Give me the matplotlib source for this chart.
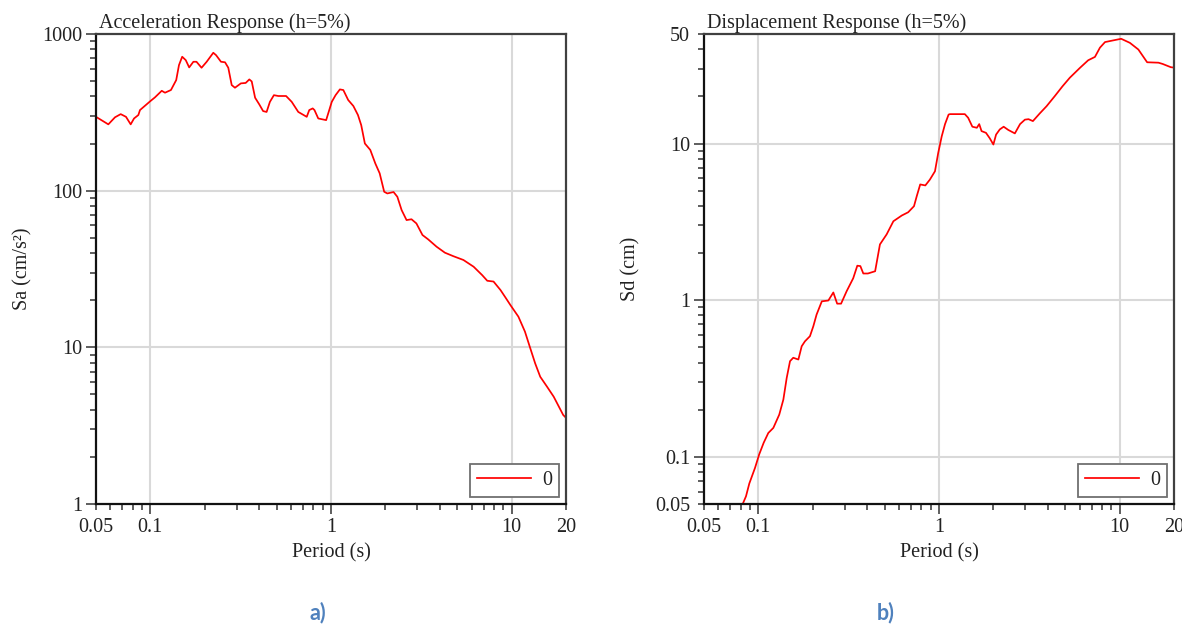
import matplotlib
matplotlib.use("Agg")
import matplotlib.pyplot as plt
from matplotlib import ticker

plt.rcParams.update(
    {
        "font.family": ["Liberation Serif", "DejaVu Serif"],
        "font.size": 14.5,
        "text.color": "#222222",
        "axes.labelcolor": "#222222",
        "xtick.color": "#333333",
        "ytick.color": "#333333",
        "xtick.labelcolor": "#222222",
        "ytick.labelcolor": "#222222",
    }
)

# acceleration spectrum, h = 5%
period_sa = [0.05, 0.0585, 0.0637, 0.0685, 0.0733, 0.0778, 0.0812, 0.0858, 0.0876, 0.100,
             0.106, 0.1156, 0.1205, 0.130, 0.139, 0.144, 0.150, 0.157, 0.164, 0.173,
             0.180, 0.192, 0.205, 0.223, 0.231, 0.246, 0.259, 0.270, 0.282, 0.294,
             0.317, 0.337, 0.353, 0.364, 0.380, 0.401, 0.421, 0.440, 0.459, 0.483,
             0.511, 0.564, 0.606, 0.659, 0.734, 0.758, 0.792, 0.810, 0.850, 0.940,
             1.01, 1.06, 1.12, 1.17, 1.245, 1.33, 1.41, 1.47, 1.54, 1.65,
             1.76, 1.86, 1.97, 2.05, 2.22, 2.33, 2.46, 2.62, 2.79, 2.97,
             3.21, 3.45, 3.84, 4.27, 4.75, 5.41, 6.16, 6.87, 7.33, 7.94,
             8.68, 9.27, 9.85, 10.9, 11.85, 12.6, 13.5, 14.4, 15.7, 17.1,
             19.3, 20.0]
sa = [296, 265, 294, 308, 296, 265, 289, 304, 327, 373,
      394, 434, 422, 439, 508, 633, 716, 681, 612, 665,
      665, 609, 665, 759, 733, 665, 660, 609, 472, 454,
      484, 487, 513, 498, 392, 355, 322, 318, 369, 407,
      402, 402, 369, 318, 296, 327, 335, 327, 289, 282,
      369, 407, 443, 439, 379, 347, 304, 262, 200, 182,
      149, 129, 98.4, 96, 98, 91.4, 75.2, 64.9, 65.7, 61.8,
      52.1, 48.9, 43.9, 40.2, 38.2, 36.1, 32.7, 28.9, 26.6, 26.3,
      23.2, 20.7, 18.6, 15.7, 12.6, 10.1, 7.9, 6.49, 5.61, 4.84,
      3.70, 3.55]

# displacement spectrum, h = 5%
period_sd = [0.080, 0.0819, 0.0854, 0.0891, 0.0958, 0.101, 0.107, 0.1135, 0.121, 0.1305,
             0.1375, 0.1435, 0.1497, 0.156, 0.1665, 0.1737, 0.181, 0.193, 0.2015, 0.21,
             0.2245, 0.244, 0.26, 0.273, 0.287, 0.308, 0.335, 0.353, 0.367, 0.381,
             0.404, 0.443, 0.471, 0.513, 0.559, 0.622, 0.675, 0.727, 0.753, 0.787,
             0.84, 0.89, 0.95, 0.99, 1.035, 1.08, 1.13, 1.15, 1.39, 1.45,
             1.53, 1.62, 1.67, 1.72, 1.82, 1.91, 2.0, 2.07, 2.17, 2.28,
             2.42, 2.63, 2.81, 2.99, 3.13, 3.31, 3.62, 3.94, 4.38, 4.83,
             5.3, 6.03, 6.7, 7.3, 7.78, 8.3, 9.2, 10.2, 11.4, 12.7,
             14.2, 16.4, 17.3, 19.2, 20.0]
sd = [0.046, 0.050, 0.056, 0.0676, 0.085, 0.1035, 0.123, 0.142, 0.153, 0.186,
      0.232, 0.319, 0.408, 0.429, 0.418, 0.508, 0.546, 0.589, 0.682, 0.809,
      0.983, 0.995, 1.12, 0.95, 0.95, 1.14, 1.38, 1.66, 1.65, 1.48,
      1.48, 1.53, 2.27, 2.63, 3.19, 3.47, 3.64, 3.98, 4.61, 5.48,
      5.4, 5.88, 6.65, 8.7, 11.1, 13.3, 15.3, 15.4, 15.4, 14.6,
      12.8, 12.6, 13.3, 12.0, 11.7, 10.8, 9.85, 11.4, 12.3, 12.8,
      12.2, 11.6, 13.3, 14.2, 14.3, 13.9, 15.6, 17.3, 20.1, 23.2,
      26.3, 30.4, 34.0, 35.7, 40.9, 44.4, 45.5, 46.6, 43.9, 39.8,
      33.0, 32.8, 32.2, 30.7, 30.5]

x_ticks = [0.05, 0.1, 1, 10, 20]
x_labels = ["0.05", "0.1", "1", "10", "20"]
sa_ticks = [1, 10, 100, 1000]
sa_labels = ["1", "10", "100", "1000"]
sd_ticks = [0.05, 0.1, 1, 10, 50]
sd_labels = ["0.05", "0.1", "1", "10", "50"]


def style_axes(ax, xt, xl, yt, yl, ylim, grid_y):
    ax.set_xscale("log")
    ax.set_yscale("log")
    ax.set_xlim(0.05, 20)
    ax.set_ylim(*ylim)

    ax.xaxis.set_major_locator(ticker.FixedLocator(xt))
    ax.xaxis.set_major_formatter(ticker.FixedFormatter(xl))
    ax.yaxis.set_major_locator(ticker.FixedLocator(yt))
    ax.yaxis.set_major_formatter(ticker.FixedFormatter(yl))
    ax.xaxis.set_minor_locator(ticker.LogLocator(base=10, subs=range(2, 10), numticks=20))
    ax.yaxis.set_minor_locator(ticker.LogLocator(base=10, subs=range(2, 10), numticks=20))
    ax.xaxis.set_minor_formatter(ticker.NullFormatter())
    ax.yaxis.set_minor_formatter(ticker.NullFormatter())

    ax.tick_params(which="major", direction="out", length=7, width=1.1, pad=3)
    ax.tick_params(which="minor", direction="out", length=4.5, width=1.1)
    # ticks at the range ends (0.05, 20, 50) are drawn short
    for axis, vals in ((ax.xaxis, xt), (ax.yaxis, yt)):
        for v, t in zip(vals, axis.get_major_ticks()):
            if v in (0.05, 20, 50):
                t.tick1line.set_markersize(4.5)

    for v in (0.1, 1, 10):
        ax.axvline(v, color="#d9d9d9", lw=1.5, zorder=0)
    for v in grid_y:
        ax.axhline(v, color="#d9d9d9", lw=1.5, zorder=0)

    ax.spines["left"].set_color("#111111")
    ax.spines["bottom"].set_color("#111111")
    ax.spines["top"].set_color("#404040")
    ax.spines["right"].set_color("#404040")
    for s in ax.spines.values():
        s.set_linewidth(1.6)

    ax.set_xlabel("Period (s)")
    ax.xaxis.set_label_coords(0.5, -0.083)


fig = plt.figure(figsize=(11.82, 6.25), dpi=100)
ax1 = fig.add_axes([96 / 1182, 1 - 504 / 625, 470 / 1182, 470 / 625])
ax2 = fig.add_axes([704 / 1182, 1 - 504 / 625, 470 / 1182, 470 / 625])

ax1.plot(period_sa, sa, color="#ff0000", lw=1.25, label="0")
style_axes(ax1, x_ticks, x_labels, sa_ticks, sa_labels, (1, 1000), [10, 100])
ax1.set_ylabel("Sa (cm/s²)")
ax1.yaxis.set_label_coords(-0.136, 0.5)
ax1.text(0.006, 1.013, "Acceleration Response (h=5%)", transform=ax1.transAxes,
         ha="left", va="baseline")

ax2.plot(period_sd, sd, color="#ff0000", lw=1.25, label="0")
style_axes(ax2, x_ticks, x_labels, sd_ticks, sd_labels, (0.05, 50), [0.1, 1, 10])
ax2.set_ylabel("Sd (cm)")
ax2.yaxis.set_label_coords(-0.136, 0.5)
ax2.text(0.006, 1.013, "Displacement Response (h=5%)", transform=ax2.transAxes,
         ha="left", va="baseline")

for ax in (ax1, ax2):
    leg = ax.legend(loc="lower right", fancybox=False, framealpha=1, edgecolor="#707070",
                    handlelength=2.65, handletextpad=0.55, borderpad=0.35,
                    borderaxespad=0.35)
    leg.get_frame().set_linewidth(1.3)

fig.text(318 / 1182, 1 - 613 / 625, "a)", ha="center", va="center",
         family=["Lato", "DejaVu Sans"], weight="bold", size=15.5, color="#4f81bd")
fig.text(886 / 1182, 1 - 613 / 625, "b)", ha="center", va="center",
         family=["Lato", "DejaVu Sans"], weight="bold", size=15.5, color="#4f81bd")

fig.savefig("out.png", dpi=100)
